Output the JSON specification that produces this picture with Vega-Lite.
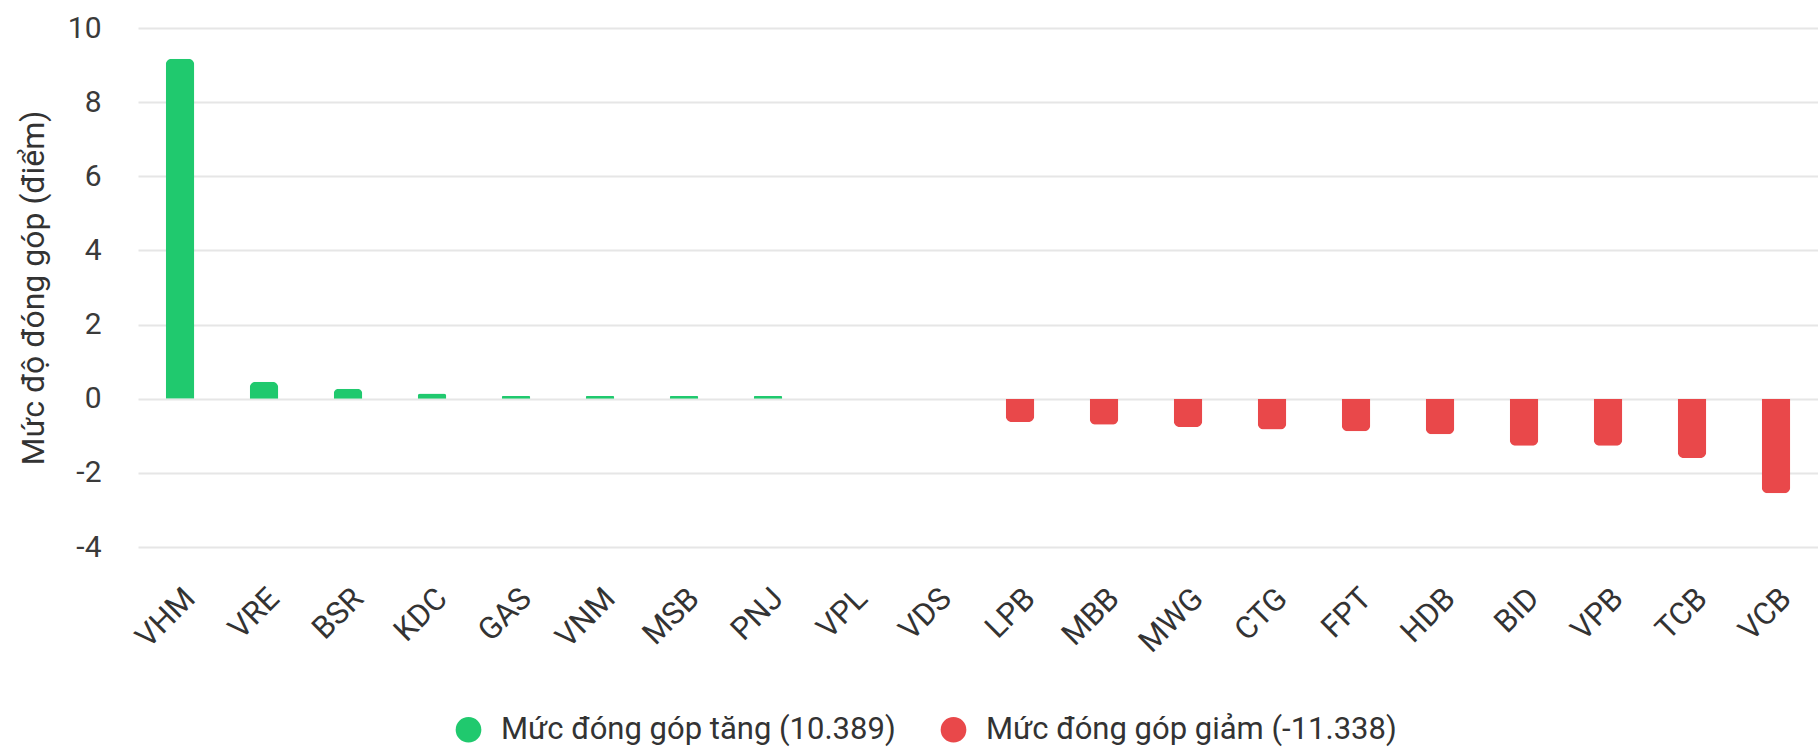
{
  "$schema": "https://vega.github.io/schema/vega-lite/v6.json",
  "width": 1680,
  "height": 519,
  "autosize": {"type": "none"},
  "padding": {"left": 138, "top": 28, "right": 0, "bottom": 201},
  "background": "white",
  "config": {
    "view": {"stroke": null},
    "font": "Roboto"
  },
  "data": {
    "values": [
      {"ma": "VHM", "giatri": 9.17, "nhom": "Mức đóng góp tăng (10.389)"},
      {"ma": "VRE", "giatri": 0.46, "nhom": "Mức đóng góp tăng (10.389)"},
      {"ma": "BSR", "giatri": 0.27, "nhom": "Mức đóng góp tăng (10.389)"},
      {"ma": "KDC", "giatri": 0.14, "nhom": "Mức đóng góp tăng (10.389)"},
      {"ma": "GAS", "giatri": 0.07, "nhom": "Mức đóng góp tăng (10.389)"},
      {"ma": "VNM", "giatri": 0.07, "nhom": "Mức đóng góp tăng (10.389)"},
      {"ma": "MSB", "giatri": 0.07, "nhom": "Mức đóng góp tăng (10.389)"},
      {"ma": "PNJ", "giatri": 0.07, "nhom": "Mức đóng góp tăng (10.389)"},
      {"ma": "VPL", "giatri": 0, "nhom": "Mức đóng góp tăng (10.389)"},
      {"ma": "VDS", "giatri": 0, "nhom": "Mức đóng góp tăng (10.389)"},
      {"ma": "LPB", "giatri": -0.63, "nhom": "Mức đóng góp giảm (-11.338)"},
      {"ma": "MBB", "giatri": -0.7, "nhom": "Mức đóng góp giảm (-11.338)"},
      {"ma": "MWG", "giatri": -0.76, "nhom": "Mức đóng góp giảm (-11.338)"},
      {"ma": "CTG", "giatri": -0.83, "nhom": "Mức đóng góp giảm (-11.338)"},
      {"ma": "FPT", "giatri": -0.88, "nhom": "Mức đóng góp giảm (-11.338)"},
      {"ma": "HDB", "giatri": -0.96, "nhom": "Mức đóng góp giảm (-11.338)"},
      {"ma": "BID", "giatri": -1.27, "nhom": "Mức đóng góp giảm (-11.338)"},
      {"ma": "VPB", "giatri": -1.27, "nhom": "Mức đóng góp giảm (-11.338)"},
      {"ma": "TCB", "giatri": -1.6, "nhom": "Mức đóng góp giảm (-11.338)"},
      {"ma": "VCB", "giatri": -2.55, "nhom": "Mức đóng góp giảm (-11.338)"}
    ]
  },
  "encoding": {
    "x": {
      "field": "ma",
      "type": "nominal",
      "sort": null,
      "scale": {"paddingInner": 0.66, "paddingOuter": 0.33},
      "axis": {
        "title": null,
        "labelAngle": -45,
        "labelFont": "Roboto",
        "labelFontSize": 31,
        "labelColor": "#333333",
        "labelPadding": 36,
        "domain": false,
        "ticks": false,
        "grid": false
      }
    },
    "y": {
      "field": "giatri",
      "type": "quantitative",
      "scale": {"domain": [-4, 10], "nice": false},
      "axis": {
        "title": "Mức độ đóng góp (điểm)",
        "titleFont": "Roboto",
        "titleFontSize": 32,
        "titleFontWeight": "normal",
        "titleColor": "#333333",
        "titlePadding": 17,
        "values": [-4, -2, 0, 2, 4, 6, 8, 10],
        "labelExpr": "datum.value + ''",
        "labelFont": "Roboto",
        "labelFontSize": 30,
        "labelColor": "#3a3a3a",
        "labelPadding": 37,
        "domain": false,
        "ticks": false,
        "grid": true,
        "gridColor": "#e6e6e6",
        "gridWidth": 2
      }
    },
    "color": {
      "field": "nhom",
      "type": "nominal",
      "scale": {
        "domain": ["Mức đóng góp tăng (10.389)", "Mức đóng góp giảm (-11.338)"],
        "range": ["#20c96e", "#e9484a"]
      },
      "legend": {
        "title": null,
        "orient": "none",
        "direction": "horizontal",
        "legendX": 315,
        "legendY": 686,
        "symbolType": "circle",
        "symbolSize": 660,
        "symbolStrokeWidth": 0,
        "labelFont": "Roboto",
        "labelFontSize": 31,
        "labelColor": "#333333",
        "labelOffset": 17,
        "columnPadding": 42,
        "labelLimit": 600
      }
    }
  },
  "layer": [
    {
      "transform": [{"filter": "datum.giatri >= 0"}],
      "mark": {"type": "bar", "cornerRadiusTopLeft": 6, "cornerRadiusTopRight": 6}
    },
    {
      "transform": [{"filter": "datum.giatri < 0"}],
      "mark": {"type": "bar", "cornerRadiusBottomLeft": 6, "cornerRadiusBottomRight": 6}
    }
  ]
}
